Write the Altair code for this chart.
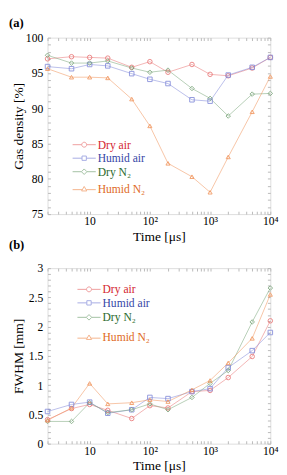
import altair as alt
import pandas as pd

times = [2, 5, 10, 20, 50, 100, 200, 500, 1000, 2000, 5000, 10000]
series = ["Dry air", "Humid air", "Dry N₂", "Humid N₂"]

dens_dry_air = [97.0, 97.3, 97.2, 97.1, 95.8, 96.6, 95.1, 96.2, 94.8, 94.6, 95.7, 97.2]
dens_humid_air = [95.9, 95.6, 96.2, 96.0, 94.9, 94.1, 93.5, 91.2, 91.0, 94.7, 95.8, 97.2]
dens_dry_n2 = [97.5, 96.4, 96.4, 96.7, 95.7, 95.1, 95.4, 92.8, 91.4, 88.9, 92.0, 92.1]
dens_humid_n2 = [95.6, 94.4, 94.4, 94.3, 91.3, 87.5, 82.2, 80.3, 78.1, 83.1, 89.5, 94.5]

fwhm_dry_air = [0.41, 0.60, 0.67, 0.57, 0.43, 0.65, 0.61, 0.89, 0.91, 1.13, 1.49, 2.10]
fwhm_humid_air = [0.55, 0.67, 0.71, 0.52, 0.58, 0.79, 0.77, 0.89, 0.94, 1.30, 1.59, 1.90]
fwhm_dry_n2 = [0.38, 0.38, 0.70, 0.53, 0.58, 0.68, 0.58, 0.79, 1.03, 1.25, 2.08, 2.66]
fwhm_humid_n2 = [0.40, 0.61, 1.03, 0.68, 0.70, 0.75, 0.72, 0.92, 1.08, 1.38, 1.80, 2.55]

x_ticks = [m * 10 ** e for e in range(0, 4) for m in range(1, 10) if m * 10 ** e >= 2] + [10000]
ya_ticks = list(range(75, 101))
yb_ticks = [round(i * 0.1, 1) for i in range(0, 31)]

mark_colors = ["#e87474", "#8088d8", "#7aa67a", "#f0935a"]
text_colors = ["#d42630", "#3646a6", "#2c6a2c", "#e06a24"]
shapes = ["circle", "square", "diamond", "triangle-up"]
legend_paths = [
    "M-4,0H-0.85M0.85,0H4M0.85,0A0.85,0.85,0,1,1,-0.85,0A0.85,0.85,0,1,1,0.85,0",
    "M-4,0H-0.75M0.75,0H4M-0.75,-0.75H0.75V0.75H-0.75Z",
    "M-4,0H-0.95M0.95,0H4M0,-0.95L0.95,0L0,0.95L-0.95,0Z",
    "M-4,0.2H-0.7M0.7,0.2H4M0,-0.9L0.9,0.65H-0.9Z",
]

FONT = "Liberation Serif"
GRAY = "#b8b8b8"
W = 231


def make_df(vals):
    rows = []
    for s, v in zip(series, vals):
        for t, y in zip(times, v):
            rows.append({"time": t, "value": y, "series": s})
    return pd.DataFrame(rows)


df_a = make_df([dens_dry_air, dens_humid_air, dens_dry_n2, dens_humid_n2])
df_b = make_df([fwhm_dry_air, fwhm_humid_air, fwhm_dry_n2, fwhm_humid_n2])
df_leg = pd.DataFrame({"series": series})

color_scale = alt.Scale(domain=series, range=mark_colors)

x_label_expr = ("datum.value == 10 ? '10' : datum.value == 100 ? '10²' : "
                "datum.value == 1000 ? '10³' : datum.value == 10000 ? '10⁴' : ''")


def panel(df, H, ydomain, yticks, ylabel_expr, ytitle, tag, lx, row_centers, toff):
    xs = alt.Scale(type="log", domain=[2, 10000], nice=False)
    ys = alt.Scale(domain=ydomain, nice=False, zero=False)
    x_main = alt.Axis(orient="bottom", values=x_ticks, labelExpr=x_label_expr,
                      offset=-3, tickSize=3, tickColor=GRAY, domain=False, grid=False,
                      labelPadding=2, labelFont=FONT, labelFontSize=12, labelColor="black",
                      labelOverlap=False, labelBound=False, labelFlush=False,
                      title="Time [μs]", titleFont=FONT, titleFontSize=14,
                      titleFontWeight="normal", titleY=19, titleX=W / 2,
                      titleBaseline="top", titleAlign="center", titleColor="black")
    y_main = alt.Axis(orient="left", values=yticks, labelExpr=ylabel_expr,
                      offset=-3, tickSize=3, tickColor=GRAY, domain=False, grid=False,
                      labelPadding=5, labelFont=FONT, labelFontSize=12, labelColor="black",
                      labelOverlap=False, labelFlush=False,
                      title=ytitle, titleFont=FONT, titleFontSize=14, titleFontWeight="normal",
                      titleX=-33, titleY=H / 2, titleAngle=270, titleBaseline="middle",
                      titleAlign="center", titleColor="black")
    x_top = alt.Axis(orient="top", values=x_ticks, labels=False, offset=-3, tickSize=3,
                     tickColor=GRAY, domain=False, grid=False, title=None)
    y_right = alt.Axis(orient="right", values=yticks, labels=False, offset=-3, tickSize=3,
                       tickColor=GRAY, domain=False, grid=False, title=None)

    base = alt.Chart(df)
    lines = base.mark_line(strokeWidth=1, opacity=0.55).encode(
        x=alt.X("time:Q", scale=xs, axis=x_main),
        y=alt.Y("value:Q", scale=ys, axis=y_main),
        color=alt.Color("series:N", scale=color_scale, legend=None),
        order="time:Q",
    )
    layers = [lines]
    for i, (s, shp) in enumerate(zip(series, shapes)):
        pts = base.transform_filter(alt.datum.series == s).mark_point(
            shape=shp, filled=False, size=22 if shp != "triangle-up" else 18,
            strokeWidth=1, opacity=0.85
        ).encode(
            x=alt.X("time:Q", scale=xs, axis=x_top if i == 0 else None),
            y=alt.Y("value:Q", scale=ys, axis=y_right if i == 0 else None),
            color=alt.Color("series:N", scale=color_scale, legend=None),
        )
        layers.append(pts)
    for s, mc, tc, path, cy in zip(series, mark_colors, text_colors, legend_paths, row_centers):
        leg = alt.Legend(
            title=None, orient="none", legendX=lx, legendY=cy - 7, padding=0,
            symbolSize=36, symbolStrokeWidth=1, symbolOpacity=0.7,
            symbolFillColor="transparent", symbolStrokeColor=mc,
            labelFont=FONT, labelFontSize=12, labelOffset=8, labelColor=tc,
        )
        lyr = alt.Chart(df_leg).transform_filter(alt.datum.series == s).mark_point(
            opacity=0, filled=False
        ).encode(
            shape=alt.Shape("series:N", scale=alt.Scale(domain=[s], range=[path]), legend=leg),
        )
        layers.append(lyr)
    return alt.layer(*layers).resolve_axis(x="independent", y="independent").resolve_scale(
        shape="independent"
    ).properties(
        width=W, height=H,
        title=alt.TitleParams(tag, anchor="start", frame="group", dx=-40, offset=toff,
                              font=FONT, fontSize=13, fontWeight="bold", color="black"),
    )


pa = panel(df_a, 183, [75, 100], ya_ticks, "datum.value % 5 == 0 ? datum.label : ''",
           "Gas density [%]", "(a)", 32, [112, 126, 140, 158], 2)
pb = panel(df_b, 182, [0, 3], yb_ticks,
           "round(datum.value * 10) % 5 == 0 ? format(datum.value, '~g') : ''",
           "FWHM [mm]", "(b)", 37, [23, 37, 52, 73], 11)

chart = alt.vconcat(pa, pb, spacing=56, bounds="flush").properties(padding=0).configure_view(
    stroke=GRAY, strokeWidth=1
).configure(background="white")

chart.save("out.html", embed_options={"renderer": "svg", "actions": False})
